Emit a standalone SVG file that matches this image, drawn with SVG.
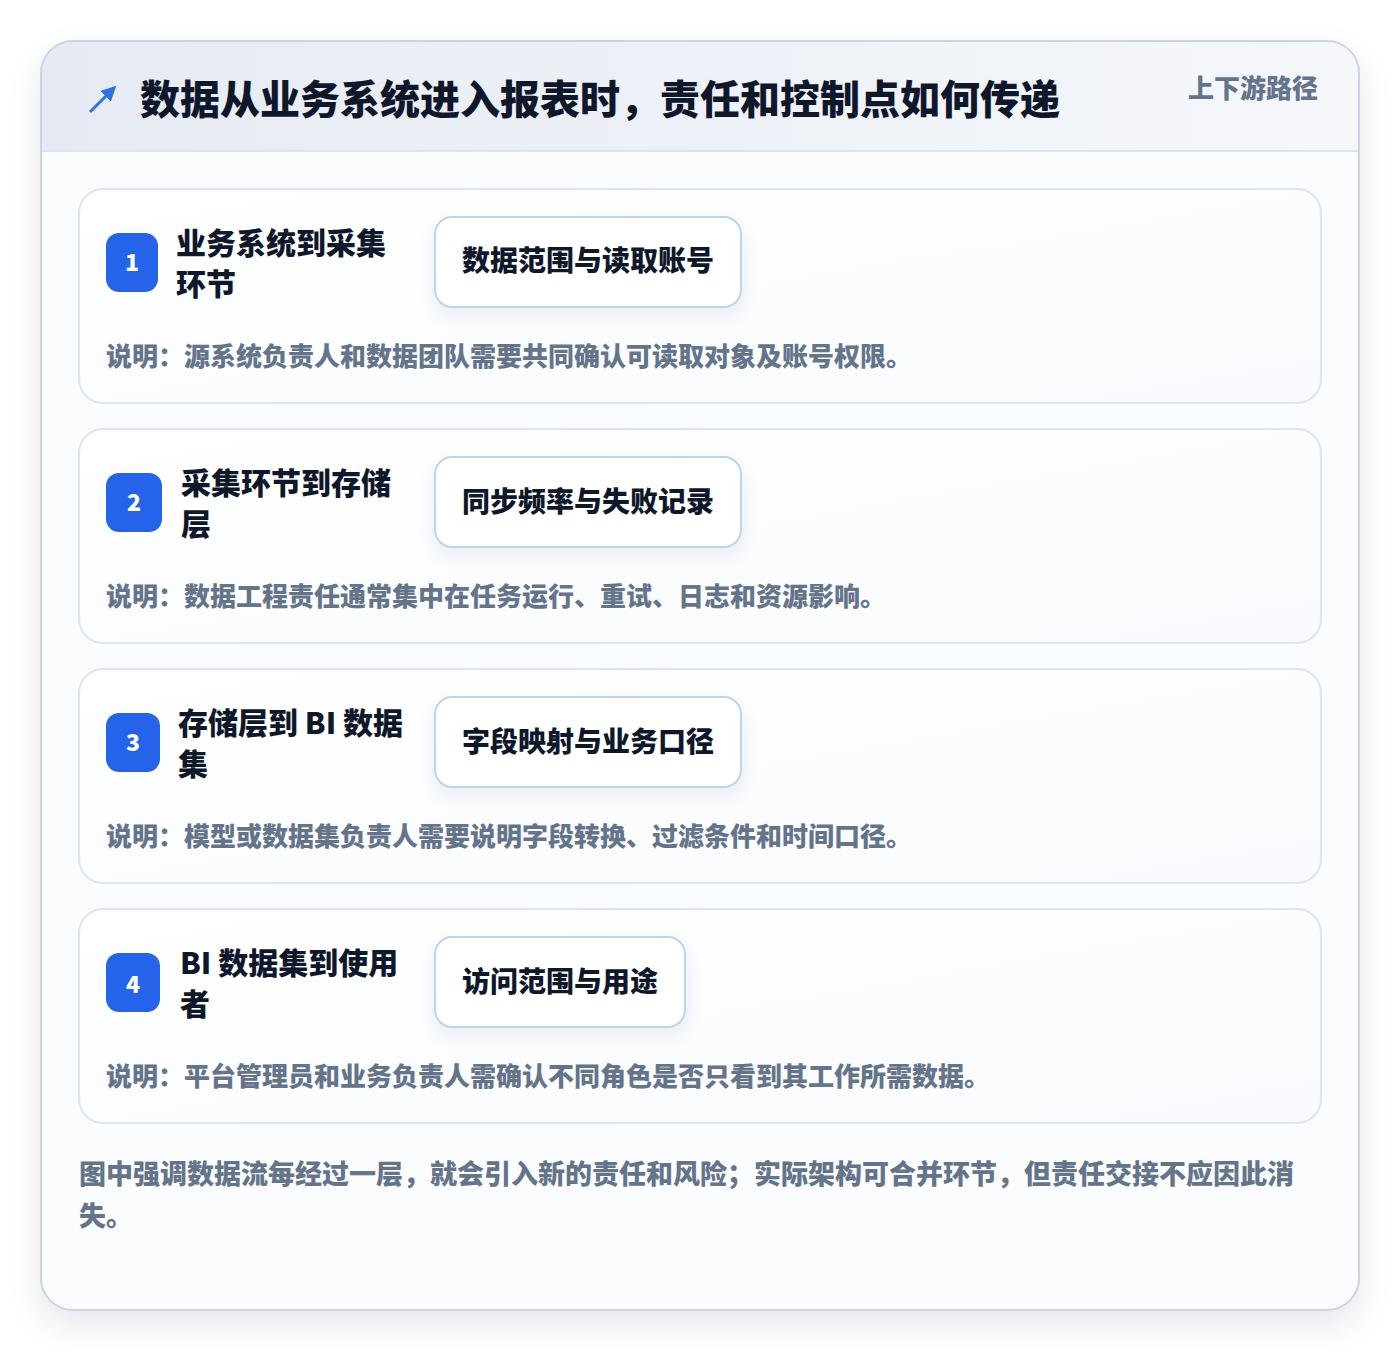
<svg xmlns="http://www.w3.org/2000/svg" width="1400" height="1352" viewBox="0 0 1400 1352">
<defs>
<linearGradient id="hdr" x1="0" y1="0" x2="1" y2="0"><stop offset="0" stop-color="#e6ebf3"/><stop offset="1" stop-color="#f5f7fb"/></linearGradient>
<linearGradient id="cardg" x1="0" y1="0" x2="1" y2="1"><stop offset="0" stop-color="#ffffff"/><stop offset="1" stop-color="#f8fafd"/></linearGradient>
<filter id="sh" x="-10%" y="-10%" width="120%" height="120%"><feDropShadow dx="0" dy="14" stdDeviation="16" flood-color="#0f172a" flood-opacity="0.10"/></filter>
<filter id="tsh" x="-20%" y="-20%" width="140%" height="160%"><feDropShadow dx="0" dy="8" stdDeviation="8" flood-color="#1e3a8a" flood-opacity="0.08"/></filter>
<clipPath id="outerclip"><rect x="41" y="41" width="1318" height="1269" rx="32"/></clipPath>
<marker id="ah" viewBox="0 0 10 10" refX="6" refY="5" markerWidth="5" markerHeight="5" orient="auto"><path d="M0,0 L10,5 L0,10 z" fill="#2f6fe6"/></marker>
</defs>
<style>
text{font-family:"Noto Sans CJK SC","Noto Sans",sans-serif;}
.card{fill:url(#cardg);stroke:#dbe6f5;stroke-width:2;}
.badge{fill:#2563eb;}
.bnum{fill:#ffffff;font-size:23px;font-weight:800;text-anchor:middle;}
.ttl{fill:#0f172a;font-size:30px;font-weight:800;}
.tag{fill:#ffffff;stroke:#bcd4f2;stroke-width:2;}
.tagt{fill:#0f172a;font-size:28px;font-weight:800;text-anchor:middle;}
.desc{fill:#64748b;font-size:26px;font-weight:800;}
.foot{fill:#64748b;font-size:27px;font-weight:800;}
</style>
<rect width="1400" height="1352" fill="#ffffff"/>
<g id="frame">
<rect x="41" y="41" width="1318" height="1269" rx="32" fill="#ffffff" filter="url(#sh)"/>
<g clip-path="url(#outerclip)">
<rect x="41" y="41" width="1318" height="1269" fill="#fbfcfe"/>
<rect x="41" y="41" width="1318" height="110" fill="url(#hdr)"/>
<line x1="41" y1="151" x2="1359" y2="151" stroke="#d9e5f4" stroke-width="2"/>
</g>
<rect x="41" y="41" width="1318" height="1269" rx="32" fill="none" stroke="#cbd5e1" stroke-width="2"/>
</g>
<g id="header">
<line x1="90" y1="112" x2="112" y2="90" stroke="#2f6fe6" stroke-width="3" marker-end="url(#ah)"/>
<text x="140" y="114" fill="#0f172a" font-size="40" font-weight="900">数据从业务系统进入报表时，责任和控制点如何传递</text>
<text x="1318" y="98" fill="#64748b" font-size="26" font-weight="800" text-anchor="end">上下游路径</text>
</g>
<g id="step1">
<rect class="card" x="79" y="189" width="1242" height="214" rx="24"/>
<rect class="badge" x="106" y="233" width="52" height="59" rx="13"/>
<text class="bnum" x="132" y="271">1</text>
<text class="ttl" x="176" y="254">业务系统到采集</text>
<text class="ttl" x="176" y="295">环节</text>
<rect class="tag" x="435" y="217" width="306" height="90" rx="17" filter="url(#tsh)"/>
<text class="tagt" x="588" y="271">数据范围与读取账号</text>
<text class="desc" x="106" y="366">说明：源系统负责人和数据团队需要共同确认可读取对象及账号权限。</text>
</g>
<g id="step2">
<rect class="card" x="79" y="429" width="1242" height="214" rx="24"/>
<rect class="badge" x="106" y="473" width="56" height="59" rx="13"/>
<text class="bnum" x="134" y="511">2</text>
<text class="ttl" x="181" y="494">采集环节到存储</text>
<text class="ttl" x="181" y="535">层</text>
<rect class="tag" x="435" y="457" width="306" height="90" rx="17" filter="url(#tsh)"/>
<text class="tagt" x="588" y="512">同步频率与失败记录</text>
<text class="desc" x="106" y="606">说明：数据工程责任通常集中在任务运行、重试、日志和资源影响。</text>
</g>
<g id="step3">
<rect class="card" x="79" y="669" width="1242" height="214" rx="24"/>
<rect class="badge" x="106" y="713" width="54" height="59" rx="13"/>
<text class="bnum" x="133" y="751">3</text>
<text class="ttl" x="178" y="734">存储层到 BI 数据</text>
<text class="ttl" x="178" y="775">集</text>
<rect class="tag" x="435" y="697" width="306" height="90" rx="17" filter="url(#tsh)"/>
<text class="tagt" x="588" y="752">字段映射与业务口径</text>
<text class="desc" x="106" y="846">说明：模型或数据集负责人需要说明字段转换、过滤条件和时间口径。</text>
</g>
<g id="step4">
<rect class="card" x="79" y="909" width="1242" height="214" rx="24"/>
<rect class="badge" x="106" y="953" width="54" height="59" rx="13"/>
<text class="bnum" x="133" y="993">4</text>
<text class="ttl" x="180" y="974">BI 数据集到使用</text>
<text class="ttl" x="180" y="1015">者</text>
<rect class="tag" x="435" y="937" width="250" height="90" rx="17" filter="url(#tsh)"/>
<text class="tagt" x="560" y="992">访问范围与用途</text>
<text class="desc" x="106" y="1086">说明：平台管理员和业务负责人需确认不同角色是否只看到其工作所需数据。</text>
</g>
<g id="footer">
<text class="foot" x="79" y="1184">图中强调数据流每经过一层，就会引入新的责任和风险；实际架构可合并环节，但责任交接不应因此消</text>
<text class="foot" x="79" y="1226">失。</text>
</g>
<g id="connectors"></g>
</svg>
